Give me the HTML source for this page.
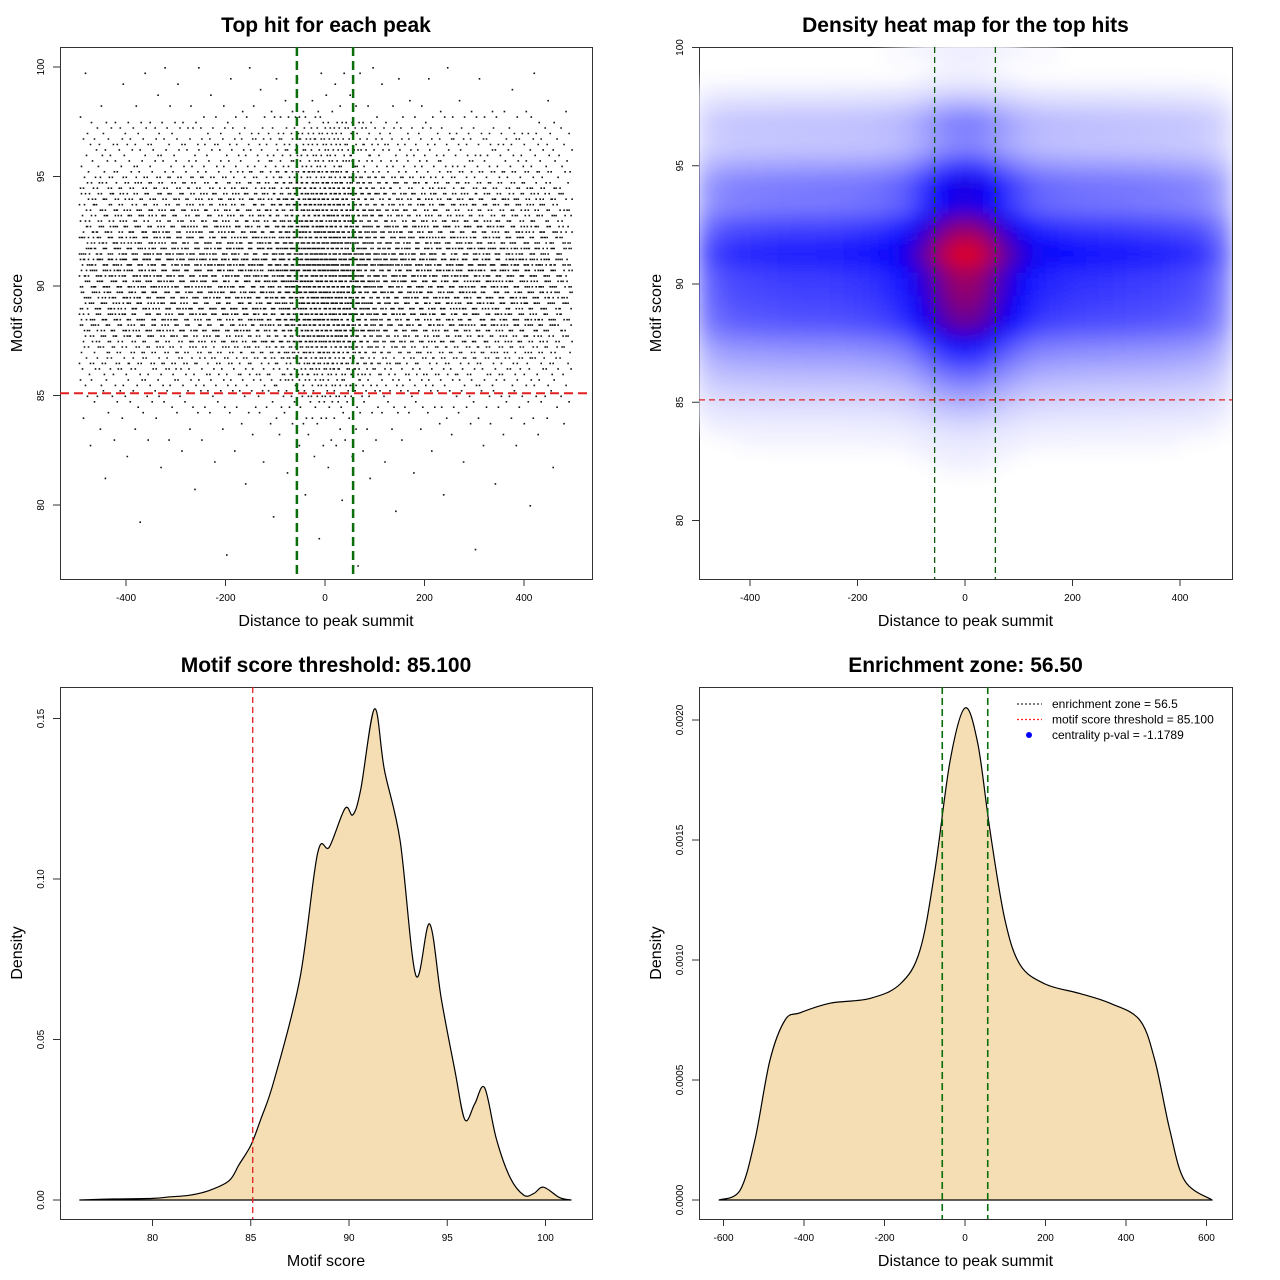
<!DOCTYPE html>
<html><head><meta charset="utf-8">
<style>
html,body{margin:0;padding:0;background:#fff;}
svg{display:block;font-family:"Liberation Sans",sans-serif;}
</style></head>
<body>
<svg id="root" width="1280" height="1280" viewBox="0 0 1280 1280" xmlns="http://www.w3.org/2000/svg">
<defs>
<filter id="blur" x="-10%" y="-10%" width="120%" height="120%"><feGaussianBlur stdDeviation="9"/></filter>
<clipPath id="clip2"><rect x="699" y="47" width="533" height="532"/></clipPath>
</defs>
</svg>
<script>
// ---- data ----
const scoreX = [76.3,78,80,80.9,81.9,82.9,83.9,84.4,85.0,85.5,86.2,87.5,88.4,89.0,89.8,90.2,90.6,91.3,91.8,92.6,93.4,94.1,94.7,95.4,95.9,96.4,96.9,97.5,98.2,98.9,99.4,99.9,100.7,101.3];
const scoreDens = [0,0.0003,0.0005,0.001,0.0015,0.003,0.006,0.011,0.017,0.025,0.0375,0.069,0.108,0.110,0.122,0.120,0.128,0.153,0.134,0.112,0.070,0.086,0.0625,0.040,0.025,0.030,0.035,0.019,0.007,0.0015,0.002,0.004,0.0008,0];
const distX = [-611,-559,-522,-485,-447,-410,-335,-236,-161,-112,-75,-37,0,32,62,99,137,199,286,360,434,472,509,546,614];
const distDens = [0,0.00004,0.00025,0.00058,0.00075,0.00078,0.00082,0.00084,0.0009,0.00104,0.00137,0.00183,0.00205,0.0019,0.00154,0.00117,0.00098,0.0009,0.00086,0.00082,0.00075,0.00058,0.00029,0.00008,0];
const enrichZone = 56.5;
const scoreThreshold = 85.1;
const p1XTicks = [-400,-200,0,200,400];
const p1YTicks = [80,85,90,95,100];
const p2XTicks = [-400,-200,0,200,400];
const p2YTicks = [80,85,90,95,100];
const p3XTicks = [80,85,90,95,100];
const p3YTicks = [0,0.05,0.10,0.15];
const p3YLabels = ["0.00","0.05","0.10","0.15"];
const p4XTicks = [-600,-400,-200,0,200,400,600];
const p4YTicks = [0,0.0005,0.001,0.0015,0.002];
const p4YLabels = ["0.0000","0.0005","0.0010","0.0015","0.0020"];
const legendLabels = ["enrichment zone = 56.5","motif score threshold = 85.100","centrality p-val = -1.1789"];
const totalHits = 7000;

const NS="http://www.w3.org/2000/svg";
const root=document.getElementById('root');
function mk(tag,attrs,parent){const e=document.createElementNS(NS,tag);for(const k in attrs)e.setAttribute(k,attrs[k]);(parent||root).appendChild(e);return e;}
function interp(xs,ys,v){if(v<=xs[0])return ys[0];if(v>=xs[xs.length-1])return ys[ys.length-1];for(let i=1;i<xs.length;i++){if(v<=xs[i]){const t=(v-xs[i-1])/(xs[i]-xs[i-1]);return ys[i-1]+t*(ys[i]-ys[i-1]);}}return 0;}
function smoothPath(P,xs,ys){
  const p=xs.map((v,i)=>[P.x(v),P.y(ys[i])]);
  let d=`M${p[0][0].toFixed(1)} ${p[0][1].toFixed(1)}`;
  for(let i=0;i<p.length-1;i++){const a=p[i-1]||p[i],b=p[i],c=p[i+1],e=p[i+2]||c;
    const c1=[b[0]+(c[0]-a[0])/6,b[1]+(c[1]-a[1])/6],c2=[c[0]-(e[0]-b[0])/6,c[1]-(e[1]-b[1])/6];
    d+=` C${c1[0].toFixed(1)} ${Math.min(c1[1],P.y(0)).toFixed(1)} ${c2[0].toFixed(1)} ${Math.min(c2[1],P.y(0)).toFixed(1)} ${c[0].toFixed(1)} ${c[1].toFixed(1)}`;}
  return d+'Z';
}

const P1={l:60,r:592,t:47,b:579,x:v=>325+v*0.4975,y:v=>286-(v-90)*21.9};
const P2={l:699,r:1232,t:47,b:579,x:v=>965+v*0.5375,y:v=>284-(v-90)*23.65};
const P3={l:60,r:592,t:687,b:1219,x:v=>349+(v-90)*19.65,y:v=>1200-v*3210};
const P4={l:699,r:1232,t:687,b:1219,x:v=>965+v*0.4025,y:v=>1200-v*240000};

function frame(P,name,title,xtitle,ytitle,xt,xl,yt,yl){
  const g=mk('g',{});
  
  
  const r=mk('rect',{x:P.l+0.5,y:P.t+0.5,width:P.r-P.l,height:P.b-P.t,fill:'none',stroke:'#333','stroke-width':1},g);
  
  const tt=mk('text',{x:(P.l+P.r)/2,y:P.t-15,'text-anchor':'middle','font-size':21,'font-weight':'bold'},g);tt.textContent=title;
  
  const xa=mk('text',{x:(P.l+P.r)/2,y:P.b+47,'text-anchor':'middle','font-size':16},g);xa.textContent=xtitle;
  
  const cy=(P.t+P.b)/2;
  const ya=mk('text',{x:P.l-38,y:cy,'text-anchor':'middle','font-size':16,transform:`rotate(-90 ${P.l-38} ${cy})`},g);
  ya.textContent=ytitle;
  
  const x0=P.x(xt[0]),x1=P.x(xt[xt.length-1]);
  mk('line',{x1:x0,x2:x1,y1:P.b+0.5,y2:P.b+0.5,stroke:'#333'},g);
  xt.forEach((v,i)=>{const x=P.x(v);
    mk('line',{x1:x,x2:x,y1:P.b,y2:P.b+7,stroke:'#333'},g);
    const t=mk('text',{x:x,y:P.b+22,'text-anchor':'middle','font-size':10},g);t.textContent=xl[i];
    });
  yt.forEach((v,i)=>{const y=P.y(v);
    mk('line',{x1:P.l-7,x2:P.l,y1:y,y2:y,stroke:'#333'},g);
    const t=mk('text',{x:P.l-16,y:y,'text-anchor':'middle','font-size':10,transform:`rotate(-90 ${P.l-16} ${y})`},g);t.textContent=yl[i];
    });
  return g;
}
function vline(P,v,color,w,dash,name){const l=mk('line',{x1:P.x(v),x2:P.x(v),y1:P.t,y2:P.b,stroke:color,'stroke-width':w,'stroke-dasharray':dash});
  }
function hline(P,v,color,w,dash,name){const l=mk('line',{x1:P.l,x2:P.r,y1:P.y(v),y2:P.y(v),stroke:color,'stroke-width':w,'stroke-dasharray':dash});
  }

const cdfX=[],cdfV=[];let acc=0;
for(let v=-495;v<=495;v+=2){acc+=interp(distX,distDens,v);cdfX.push(v);cdfV.push(acc);}
function invDist(u){const target=u*acc;let lo=0,hi=cdfV.length-1;while(lo<hi){const m=(lo+hi)>>1;if(cdfV[m]<target)lo=m+1;else hi=m;}return cdfX[lo];}

// ---- Panel 1: scatter ----
frame(P1,'scatter-panel','Top hit for each peak','Distance to peak summit','Motif score',p1XTicks,p1XTicks.map(String),p1YTicks,p1YTicks.map(String));
const pts=mk('g',{fill:'#111'});

let k=0;let d='';
for(let b=77;b<100.5;b+=0.5){
  const n=Math.round(totalHits*interp(scoreX,scoreDens,b+0.25)*0.5);
  for(let i=0;i<n;i++){k++;
    const u=(k*0.6180339887)%1,w=(k*0.7548776662)%1;
    const xv=invDist(u);const yv=b+Math.floor(w*2)*0.25;
    if(yv>100.2)continue;
    d+=`M${P1.x(xv).toFixed(1)} ${P1.y(yv).toFixed(1)}h1.6v1.6h-1.6z`;
  }
}
const pp=mk('path',{d:d},pts);
vline(P1,-enrichZone,'#0a6e0a',2.5,'9,5','enrichment-line-left');
vline(P1,enrichZone,'#0a6e0a',2.5,'9,5','enrichment-line-right');
hline(P1,scoreThreshold,'#e02020',2,'9,5','threshold-line');

// ---- Panel 2: heatmap ----
frame(P2,'heatmap-panel','Density heat map for the top hits','Distance to peak summit','Motif score',p2XTicks,p2XTicks.map(String),p2YTicks,p2YTicks.map(String));
const hg=mk('g',{'clip-path':'url(#clip2)'});

const hb=mk('g',{filter:'url(#blur)'},hg);
const maxV=0.153*0.00205;
function ramp(t){t=Math.pow(Math.min(1,t),0.85);
  if(t<0.5){const s=t/0.5;return `rgb(${Math.round(255*(1-s))},${Math.round(255*(1-s))},255)`;}
  const s=(t-0.5)/0.5;return `rgb(${Math.round(255*s)},0,${Math.round(255*(1-s))})`;}
for(let x=-500;x<500;x+=25){for(let y=76;y<101;y+=0.5){
  const v=interp(scoreX,scoreDens,y+0.25)*interp(distX,distDens,x+12.5)/maxV;
  if(v<0.01)continue;
  const c=mk('rect',{x:P2.x(x),y:P2.y(y+0.5),width:25*0.5375+0.5,height:0.5*23.65+0.5,fill:ramp(v)},hb);
  
}}
vline(P2,-enrichZone,'#0a5a0a',1.3,'6,4','enrichment-line-left');
vline(P2,enrichZone,'#0a5a0a',1.3,'6,4','enrichment-line-right');
hline(P2,scoreThreshold,'#e02020',1.3,'6,4','threshold-line');

// ---- Panel 3: score density ----
frame(P3,'score-density-panel','Motif score threshold: 85.100','Motif score','Density',p3XTicks,p3XTicks.map(String),p3YTicks,p3YLabels);
const a3=mk('path',{d:smoothPath(P3,scoreX,scoreDens),fill:'#f5deb3',stroke:'#000','stroke-width':1.2,'stroke-linejoin':'round'});

vline(P3,scoreThreshold,'#e02020',1.3,'6,4','threshold-line');

// ---- Panel 4: distance density ----
frame(P4,'distance-density-panel','Enrichment zone: 56.50','Distance to peak summit','Density',p4XTicks,p4XTicks.map(String),p4YTicks,p4YLabels);
const a4=mk('path',{d:smoothPath(P4,distX,distDens),fill:'#f5deb3',stroke:'#000','stroke-width':1.2,'stroke-linejoin':'round'});

vline(P4,-enrichZone,'#0a6e0a',1.6,'7,4','enrichment-line-left');
vline(P4,enrichZone,'#0a6e0a',1.6,'7,4','enrichment-line-right');
const lg=mk('g',{});
const lcol=['#333','#ff2020'];
legendLabels.forEach((s,i)=>{const y=704+i*15.5;
  if(i<2){mk('line',{x1:1017,x2:1042,y1:y,y2:y,stroke:lcol[i],'stroke-width':1.3,'stroke-dasharray':'2,2'},lg);}
  else{mk('circle',{cx:1029,cy:y,r:3,fill:'#0000ff'},lg);}
  const t=mk('text',{x:1052,y:y+4,'font-size':12},lg);t.textContent=s;
  });
</script>
</body></html>
